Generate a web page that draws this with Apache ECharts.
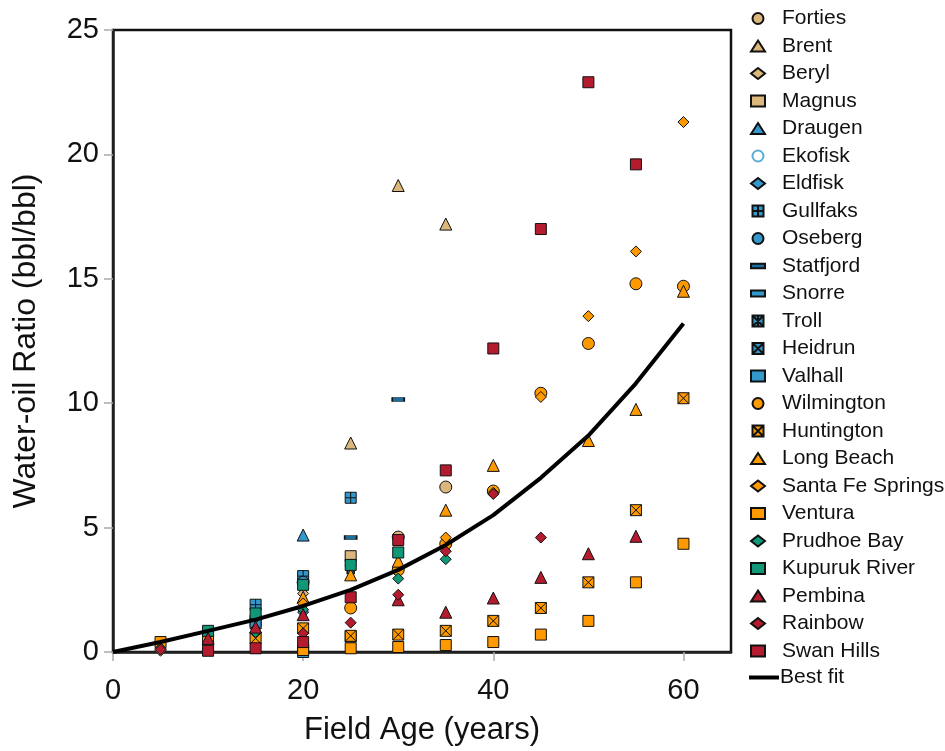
<!DOCTYPE html>
<html>
<head>
<meta charset="utf-8">
<script src="https://cdn.jsdelivr.net/npm/echarts@6/dist/echarts.min.js"></script>
<style>
  html, body { margin: 0; padding: 0; background: #fff; }
  #chart { width: 945px; height: 751px; }
</style>
</head>
<body>
<div id="chart"></div>
<script>
// field age (years) vs water-oil ratio (bbl/bbl)
const forties = [[30, 4.62], [35, 6.63]];
const brent = [[25, 8.4], [30, 18.75], [35, 17.2]];
const beryl = [[20, 2.35], [5, 0.05]];
const magnus = [[25, 3.85]];
const draugen = [[20, 4.7]];
const ekofisk = [[25, 3.5]];
const eldfisk = [[20, 1.6]];
const gullfaks = [[15, 1.9], [20, 3.05], [25, 6.2]];
const oseberg = [[20, 2.8]];
const statfjord = [[25, 4.6], [30, 10.15]];
const snorre = [[25, 3.2]];
const troll = [[15, 1.25]];
const heidrun = [[15, 1.15]];
const valhall = [[20, 0.0], [25, 0.62]];
const wilmington = [[25, 1.77], [30, 3.3], [35, 4.35], [40, 6.47], [45, 10.4], [50, 12.4], [55, 14.8], [60, 14.7]];
const huntington = [[10, 0.5], [15, 0.55], [20, 0.95], [25, 0.65], [30, 0.7], [35, 0.85], [40, 1.25], [45, 1.77], [50, 2.8], [55, 5.7], [60, 10.2]];
const longBeach = [[20, 2.2], [25, 3.1], [30, 3.65], [35, 5.7], [40, 7.5], [50, 8.5], [55, 9.75], [60, 14.5]];
const santaFe = [[20, 1.95], [35, 4.6], [40, 6.4], [45, 10.25], [50, 13.5], [55, 16.1], [60, 21.3]];
const ventura = [[5, 0.4], [20, 0.08], [25, 0.15], [30, 0.2], [35, 0.28], [40, 0.4], [45, 0.7], [50, 1.25], [55, 2.8], [60, 4.35]];
const prudhoe = [[5, 0.15], [10, 0.3], [15, 0.8], [20, 1.7], [30, 2.95], [35, 3.73]];
const kupuruk = [[10, 0.85], [15, 1.55], [20, 2.7], [25, 3.5], [30, 4.0]];
const pembina = [[10, 0.55], [15, 1.0], [20, 1.5], [30, 2.1], [35, 1.6], [40, 2.17], [45, 3.0], [50, 3.95], [55, 4.65]];
const rainbow = [[5, 0.1], [20, 0.75], [25, 1.18], [30, 2.3], [35, 4.05], [40, 6.35], [45, 4.6]];
const swanHills = [[10, 0.05], [15, 0.15], [20, 0.4], [25, 2.2], [30, 4.5], [35, 7.3], [40, 12.2], [45, 17.0], [50, 22.9], [55, 19.6]];
const bestFit = [[0, 0], [5, 0.4], [10, 0.85], [15, 1.3], [20, 1.85], [25, 2.5], [30, 3.3], [35, 4.3], [40, 5.5], [45, 7.0], [50, 8.7], [55, 10.8], [60, 13.2]];

const TAN = "#DBB77B", BLUE = "#3399CC", DARKBLUE = "#1C6E9C", ORANGE = "#FF9900", GREEN = "#119977", RED = "#B51B2E";

// square symbols with lines inside
const SQ_PLUS = "path://M0,0H10V10H0Z M5,0V10 M0,5H10";
const SQ_X = "path://M0,0H10V10H0Z M0,0L10,10 M10,0L0,10";
const SQ_STAR = "path://M0,0H10V10H0Z M0,0L10,10 M10,0L0,10 M5,0V10";
// flat dashes for Statfjord / Snorre
const DASH = "path://M0,0H12V4H0Z";
const SMALL_DASH = "path://M0,0H7V3H0Z";

function pts(name, data, symbol, color, size, extra) {
  return Object.assign({
    name: name,
    type: "scatter",
    data: data,
    symbol: symbol,
    symbolSize: size,
    itemStyle: { color: color, borderColor: "#111", borderWidth: 1, opacity: 1 },
    emphasis: { disabled: true }
  }, extra || {});
}

const series = [
  pts("Forties", forties, "circle", TAN, 12),
  pts("Brent", brent, "triangle", TAN, 12),
  pts("Beryl", beryl, "diamond", TAN, 11),
  pts("Magnus", magnus, "rect", TAN, 11),
  pts("Draugen", draugen, "triangle", BLUE, 12),
  pts("Ekofisk", ekofisk, "circle", "#fff", 11, { itemStyle: { color: "#fff", borderColor: BLUE, borderWidth: 1.2 } }),
  pts("Eldfisk", eldfisk, "diamond", BLUE, 11),
  pts("Gullfaks", gullfaks, SQ_PLUS, BLUE, 11),
  pts("Oseberg", oseberg, "circle", BLUE, 12),
  pts("Statfjord", statfjord, DASH, DARKBLUE, [12, 4]),
  pts("Snorre", snorre, SMALL_DASH, BLUE, [7, 3]),
  pts("Troll", troll, SQ_STAR, BLUE, 11),
  pts("Heidrun", heidrun, SQ_X, BLUE, 11),
  pts("Valhall", valhall, "rect", BLUE, 11),
  pts("Wilmington", wilmington, "circle", ORANGE, 12),
  pts("Huntington", huntington, SQ_X, ORANGE, 11),
  pts("Long Beach", longBeach, "triangle", ORANGE, 12),
  pts("Santa Fe Springs", santaFe, "diamond", ORANGE, 11),
  pts("Ventura", ventura, "rect", ORANGE, 11),
  pts("Prudhoe Bay", prudhoe, "diamond", GREEN, 11),
  pts("Kupuruk River", kupuruk, "rect", GREEN, 11),
  pts("Pembina", pembina, "triangle", RED, 12),
  pts("Rainbow", rainbow, "diamond", RED, 11),
  pts("Swan Hills", swanHills, "rect", RED, 11),
  {
    name: "Best fit",
    type: "line",
    data: bestFit,
    symbol: "none",
    lineStyle: { color: "#000", width: 4 },
    z: 5,
    emphasis: { disabled: true }
  }
];

const FONT = '"Liberation Sans", Arial, Helvetica, sans-serif';
const legendText = { fontSize: 21, color: "#111", fontFamily: FONT };
// the legend icons follow each series' own symbol
const markerItems = series.filter(s => s.type === "scatter").map(s => ({ name: s.name, icon: s.symbol }));

const chart = echarts.init(document.getElementById("chart"), null, { renderer: "canvas" });
chart.setOption({
  animation: false,
  backgroundColor: "#fff",
  textStyle: { fontFamily: FONT },
  grid: {
    left: 113, right: 214, top: 30, bottom: 99,
    show: true, borderColor: "#111", borderWidth: 2.5, backgroundColor: "transparent"
  },
  legend: [
    {
      data: markerItems,
      orient: "vertical",
      left: 745,
      top: 3,
      itemWidth: 14,
      itemHeight: 11,
      itemGap: 6.5,
      selectedMode: false,
      textStyle: Object.assign({ padding: [0, 0, 0, 12] }, legendText)
    },
    {
      data: [{ name: "Best fit", icon: "rect", itemStyle: { color: "#000" } }],
      orient: "vertical",
      left: 744,
      top: 662,
      itemWidth: 30,
      itemHeight: 4,
      selectedMode: false,
      textStyle: Object.assign({ padding: [0, 0, 0, -4] }, legendText)
    }
  ],
  xAxis: {
    type: "value",
    min: 0,
    max: 65,
    interval: 20,
    name: "Field Age (years)",
    nameLocation: "middle",
    nameGap: 63,
    nameTextStyle: { fontSize: 31, color: "#111", fontFamily: FONT },
    axisLine: { lineStyle: { color: "#222", width: 2.5 } },
    axisTick: { show: true, length: 9, lineStyle: { color: "#aaa", width: 1.5 } },
    axisLabel: { fontSize: 29, color: "#111", margin: 24, fontFamily: FONT, showMaxLabel: false },
    splitLine: { show: false }
  },
  yAxis: {
    type: "value",
    min: 0,
    max: 25,
    interval: 5,
    name: "Water-oil Ratio (bbl/bbl)",
    nameLocation: "middle",
    nameGap: 71,
    nameTextStyle: { fontSize: 32, color: "#111", fontFamily: FONT },
    axisLine: { lineStyle: { color: "#222", width: 2.5 } },
    axisTick: { show: true, length: 9, lineStyle: { color: "#aaa", width: 1.5 } },
    axisLabel: { fontSize: 29, color: "#111", margin: 14, fontFamily: FONT },
    splitLine: { show: false }
  },
  series: series
});
</script>
</body>
</html>
